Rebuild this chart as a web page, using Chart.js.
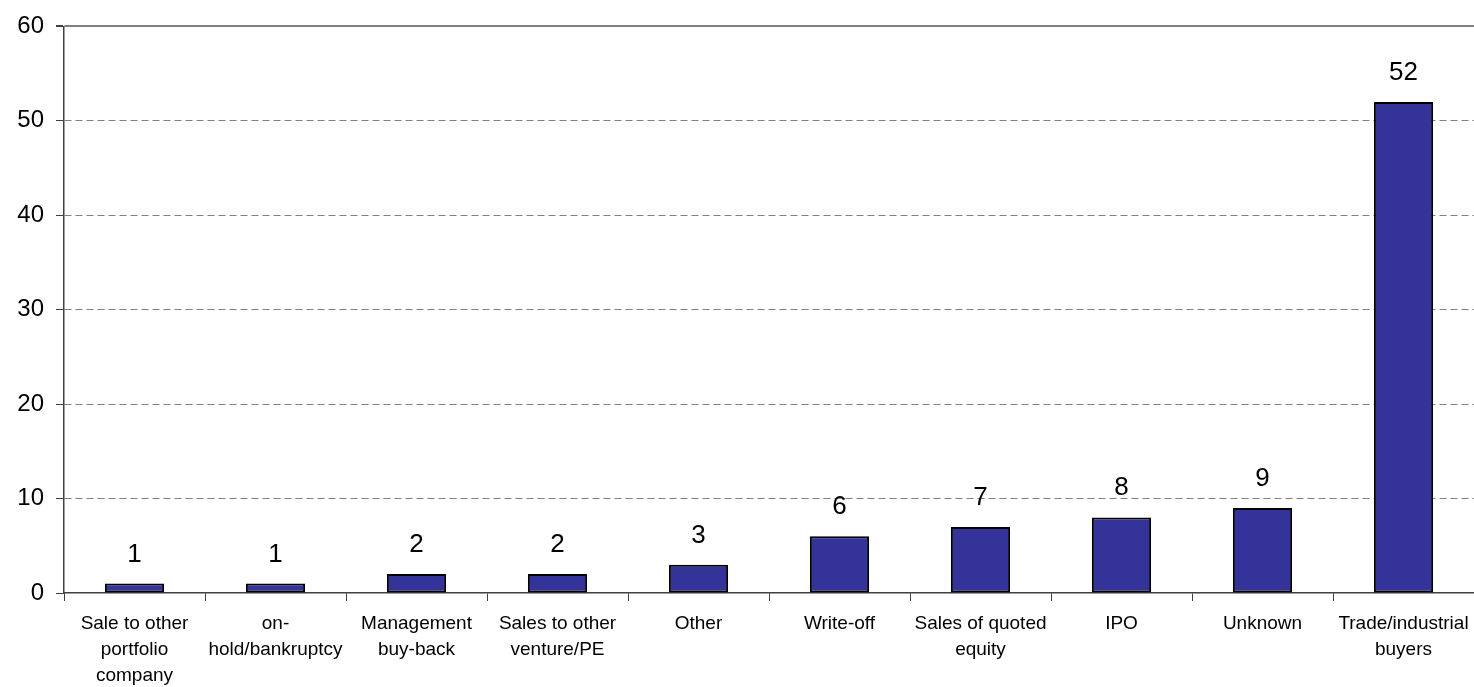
<!DOCTYPE html>
<html lang="en">
<head>
  <meta charset="UTF-8">
  <title>Exit routes</title>
  <style>
    body {
      margin: 0;
      background: #ffffff;
    }

    .wrap {
      width: 1474px;
      height: 687px;
      position: relative;
    }
  </style>
</head>
<body>
  <div class="wrap">
    <canvas id="exitChart"></canvas>
  </div>

  <script src="https://cdn.jsdelivr.net/npm/chart.js"></script>
  <script>
    const categories = [
      ['Sale to other', 'portfolio', 'company'],
      ['on-', 'hold/bankruptcy'],
      ['Management', 'buy-back'],
      ['Sales to other', 'venture/PE'],
      ['Other'],
      ['Write-off'],
      ['Sales of quoted', 'equity'],
      ['IPO'],
      ['Unknown'],
      ['Trade/industrial', 'buyers']
    ];
    const exits = [1, 1, 2, 2, 3, 6, 7, 8, 9, 52];
    const yTicks = [0, 10, 20, 30, 40, 50, 60];

    const FONT = "'Liberation Sans', Arial, sans-serif";

    // numbers above the bars
    const valueLabels = {
      id: 'valueLabels',
      afterDatasetsDraw(chart) {
        const ctx = chart.ctx;
        const meta = chart.getDatasetMeta(0);
        ctx.save();
        ctx.font = '26px ' + FONT;
        ctx.fillStyle = '#000';
        ctx.textAlign = 'center';
        ctx.textBaseline = 'alphabetic';
        meta.data.forEach((bar, i) => {
          ctx.fillText(String(exits[i]), bar.x, bar.y - 22);
        });
        ctx.restore();
      }
    };

    const ctx = document.getElementById('exitChart').getContext('2d');
    new Chart(ctx, {
      type: 'bar',
      data: {
        labels: categories,
        datasets: [{
          data: exits,
          backgroundColor: '#333399',
          borderColor: '#000000',
          borderWidth: 2,
          borderSkipped: false,
          categoryPercentage: 1,
          barPercentage: 0.42
        }]
      },
      options: {
        responsive: true,
        maintainAspectRatio: false,
        animation: false,
        layout: {
          padding: { top: 24, left: 0, right: 0, bottom: 0 }
        },
        plugins: {
          legend: { display: false },
          tooltip: { enabled: false }
        },
        scales: {
          x: {
            afterFit: s => {
              s.height = 94;
              s.paddingLeft = 0;
              s.paddingRight = 0;
            },
            grid: {
              drawOnChartArea: false,
              drawTicks: true,
              tickLength: 8,
              tickColor: '#404040',
              offset: true
            },
            border: { color: '#404040', width: 1.5 },
            ticks: {
              color: '#000',
              font: { family: FONT, size: 19, lineHeight: 26 / 19 },
              padding: 10,
              maxRotation: 0,
              autoSkip: false
            }
          },
          y: {
            min: 0,
            max: 60,
            afterFit: s => { s.width = 64; },
            afterBuildTicks: s => { s.ticks = yTicks.map(v => ({ value: v })); },
            grid: {
              color: ctx => ctx.tick && ctx.tick.value === 0 ? 'rgba(0,0,0,0)' : '#808080',
              lineWidth: ctx => ctx.tick && ctx.tick.value === 60 ? 2 : 1,
              tickLength: 8,
              tickColor: '#404040'
            },
            border: {
              color: '#404040',
              width: 1.5,
              dash: ctx => ctx.tick && ctx.tick.value === 60 ? [] : [7, 4]
            },
            ticks: {
              color: '#000',
              font: { family: FONT, size: 24 },
              padding: 12
            }
          }
        }
      },
      plugins: [valueLabels]
    });
  </script>
</body>
</html>
